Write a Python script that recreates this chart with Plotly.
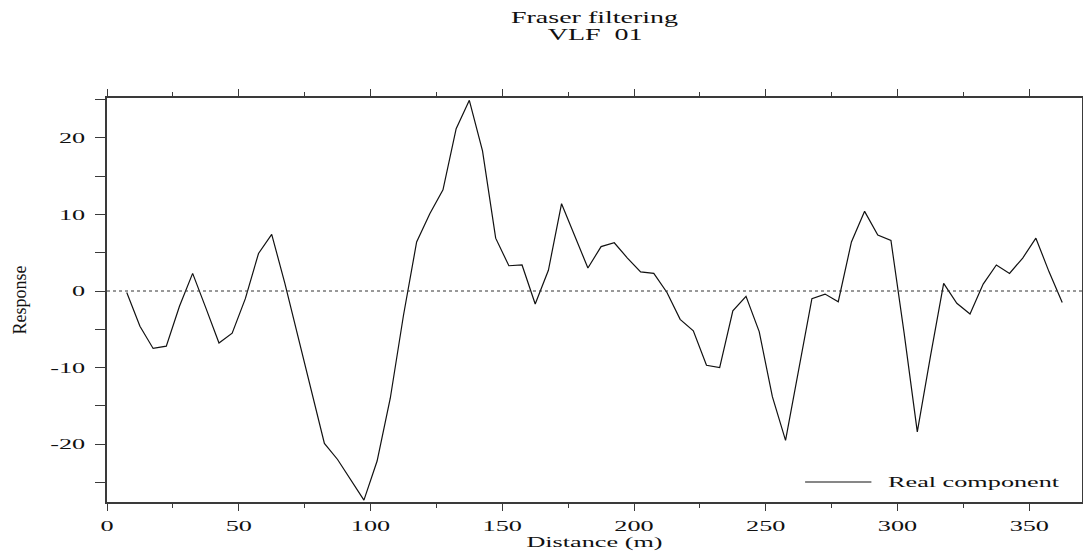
import plotly.graph_objects as go

# Survey stations along the VLF profile (m)
distance_m = [
    7.5, 12.5, 17.5, 22.5, 27.5, 32.5, 37.5, 42.5, 47.5, 52.5,
    57.5, 62.5, 67.5, 72.5, 77.5, 82.5, 87.5, 92.5, 97.5, 102.5,
    107.5, 112.5, 117.5, 122.5, 127.5, 132.5, 137.5, 142.5, 147.5, 152.5,
    157.5, 162.5, 167.5, 172.5, 177.5, 182.5, 187.5, 192.5, 197.5, 202.5,
    207.5, 212.5, 217.5, 222.5, 227.5, 232.5, 237.5, 242.5, 247.5, 252.5,
    257.5, 262.5, 267.5, 272.5, 277.5, 282.5, 287.5, 292.5, 297.5, 302.5,
    307.5, 312.5, 317.5, 322.5, 327.5, 332.5, 337.5, 342.5, 347.5, 352.5,
    357.5, 362.5,
]

# Fraser-filtered real component
real_component = [
    -0.2, -4.6, -7.5, -7.2, -2.0, 2.3, -2.2, -6.8, -5.5, -1.0,
    4.9, 7.4, 1.0, -6.0, -12.6, -19.9, -22.0, -24.7, -27.3, -22.2,
    -14.0, -3.2, 6.4, 10.1, 13.2, 21.2, 24.9, 18.3, 6.9, 3.3,
    3.4, -1.7, 2.7, 11.4, 7.3, 3.0, 5.8, 6.3, 4.3, 2.5,
    2.3, -0.2, -3.7, -5.2, -9.7, -10.0, -2.6, -0.7, -5.3, -13.8,
    -19.5, -10.3, -1.0, -0.4, -1.4, 6.4, 10.4, 7.3, 6.6, -5.5,
    -18.4, -8.5, 1.0, -1.6, -3.0, 0.9, 3.4, 2.3, 4.3, 6.9,
    2.5, -1.5,
]

y_tick_vals = [-20, -10, 0, 10, 20]
y_tick_text = ["-20", "-10", "0", "10", "20"]
x_tick_vals = [0, 50, 100, 150, 200, 250, 300, 350]
x_tick_text = ["0", "50", "100", "150", "200", "250", "300", "350"]

FONT = "Liberation Serif"
AXIS_COLOR = "#3a3a3a"

fig = go.Figure()
fig.add_trace(go.Scatter(
    x=distance_m, y=real_component, mode="lines",
    name="Real component",
    line=dict(color="#111111", width=1.2),
    showlegend=False,
))

# dotted zero reference
fig.add_shape(type="line", xref="paper", yref="y", x0=0, x1=1, y0=0, y1=0,
              line=dict(color="#333333", width=1, dash="dot"))

# legend key drawn in the lower-right corner
fig.add_shape(type="line", xref="paper", yref="paper",
              x0=0.716, x1=0.784, y0=0.0495, y1=0.0495,
              line=dict(color="#111111", width=1.1))
fig.add_annotation(text="Real component", xref="paper", yref="paper",
                   x=0.799, y=0.0495, xanchor="left", yanchor="middle",
                   align="left", showarrow=False,
                   font=dict(family=FONT, size=15, color="#111111"))

# second title line
fig.add_annotation(text="VLF\u00a0\u00a001", xref="paper", yref="paper",
                   x=0.5, y=1.158, xanchor="center", yanchor="middle",
                   showarrow=False,
                   font=dict(family=FONT, size=16, color="#111111"))

fig.update_layout(
    template="none",
    width=1083, height=551,
    margin=dict(l=107, r=1, t=98, b=49, autoexpand=False),
    paper_bgcolor="white", plot_bgcolor="white",
    font=dict(family=FONT, size=15, color="#111111"),
    title=dict(text="Fraser filtering", x=0.5, xref="paper",
               y=1 - 17.5 / 551, yref="container", xanchor="center", yanchor="middle",
               font=dict(family=FONT, size=16, color="#111111")),
    xaxis=dict(
        range=[0, 370], tickmode="array", tickvals=x_tick_vals, ticktext=x_tick_text,
        ticks="outside", ticklen=7, tickwidth=1.2, tickcolor=AXIS_COLOR,
        minor=dict(tickmode="linear", tick0=0, dtick=25, ticks="outside",
                   ticklen=4, tickwidth=1.2, tickcolor=AXIS_COLOR, showgrid=False),
        showline=True, linecolor=AXIS_COLOR, linewidth=1.6, mirror="ticks",
        showgrid=False, zeroline=False, ticklabelstandoff=2, automargin=False,
        title=dict(text="Distance (m)", standoff=6,
                   font=dict(family=FONT, size=15, color="#111111")),
    ),
    yaxis=dict(
        range=[-27.55, 25.2], tickmode="array", tickvals=y_tick_vals, ticktext=y_tick_text,
        ticks="outside", ticklen=10, tickwidth=1.2, tickcolor=AXIS_COLOR,
        minor=dict(tickmode="linear", tick0=0, dtick=5, ticks="outside",
                   ticklen=10, tickwidth=1.2, tickcolor=AXIS_COLOR, showgrid=False),
        showline=True, linecolor=AXIS_COLOR, linewidth=1.6, mirror="ticks",
        showgrid=False, zeroline=False, ticklabelstandoff=7, automargin=False,
        title=dict(text="Response", standoff=34,
                   font=dict(family=FONT, size=18, color="#111111")),
    ),
)

# widen horizontal text glyphs (wide-set lettering)
widen_js = """
var gd = document.querySelector('.js-plotly-plot');
var origins = {start: 'left center', middle: 'center', end: 'right center'};
function widen(el) {
  var tf = el.getAttribute('transform') || '';
  var m = tf.match(/translate\\(\\s*([-0-9.e]+)[\\s,]+([-0-9.e]+)\\s*\\)/);
  var pre = m ? 'translate(' + m[1] + 'px,' + m[2] + 'px) ' : '';
  el.style.transformBox = 'fill-box';
  el.style.transformOrigin = origins[el.getAttribute('text-anchor')] || 'center';
  el.style.transform = pre + 'scaleX(1.75)';
}
gd.querySelectorAll('.xtick text, .ytick text, .gtitle, .xtitle, .annotation-text').forEach(widen);
"""

fig.write_html("out.html", post_script=widen_js, config={"responsive": False})
